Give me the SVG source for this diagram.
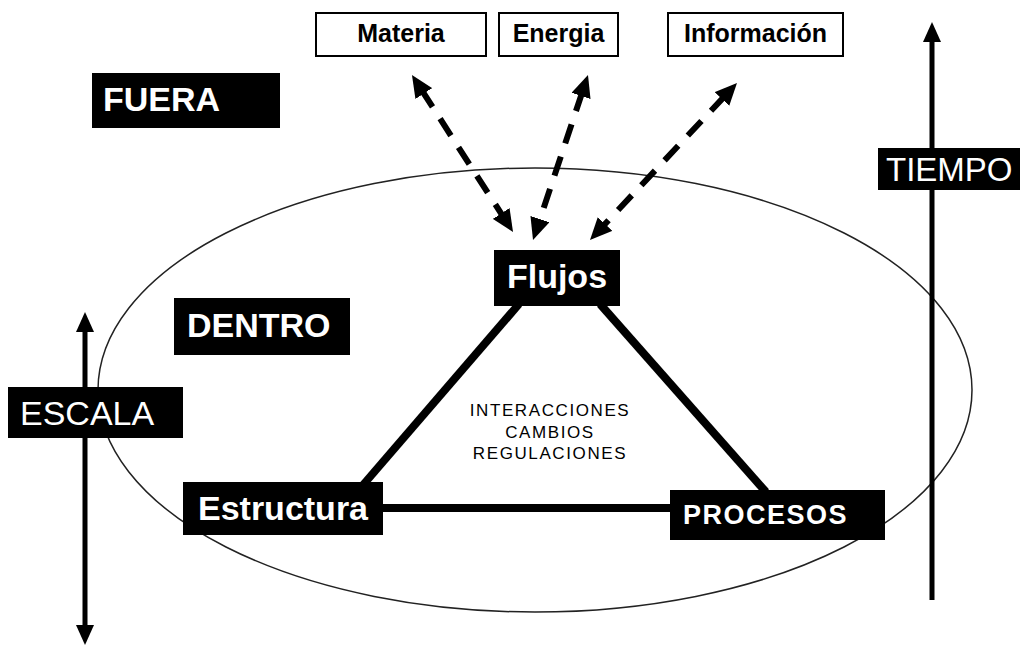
<svg xmlns="http://www.w3.org/2000/svg" width="1024" height="650" viewBox="0 0 1024 650">
<defs>
<style>
.bg{fill:#fff}
.dark{fill:#000}
.lite{fill:#fff;stroke:#000;stroke-width:2}
.wb{font-family:"Liberation Sans",Arial,sans-serif;font-weight:bold;fill:#fff}
.wr{font-family:"Liberation Sans",Arial,sans-serif;font-weight:normal;fill:#fff}
.kb{font-family:"Liberation Sans",Arial,sans-serif;font-weight:bold;fill:#000;font-size:25px}
.mid{font-family:"Liberation Sans",Arial,sans-serif;font-size:17px;letter-spacing:1.6px;fill:#000;text-anchor:middle}
.dash{stroke:#000;stroke-width:6;fill:none;stroke-dasharray:20 14;marker-start:url(#ah);marker-end:url(#ah)}
.edge{stroke:#000;stroke-width:8;fill:none}
.axis{stroke:#000;stroke-width:5;fill:none}
</style>
<marker id="ah" viewBox="0 0 22 20" refX="4" refY="10" markerWidth="22" markerHeight="20" markerUnits="userSpaceOnUse" orient="auto-start-reverse">
<path d="M0,0 L22,10 L0,20 z" fill="#000"/>
</marker>
<marker id="ah2" viewBox="0 0 20 18" refX="4" refY="9" markerWidth="20" markerHeight="18" markerUnits="userSpaceOnUse" orient="auto-start-reverse">
<path d="M0,0 L20,9 L0,18 z" fill="#000"/>
</marker>
</defs>
<rect class="bg" x="0" y="0" width="1024" height="650"/>
<ellipse cx="535" cy="390" rx="437" ry="222" fill="none" stroke="#222" stroke-width="1.5"/>
<g id="connectors">
<line class="dash" x1="421.7" y1="90.1" x2="503.3" y2="216.9"/>
<line class="dash" x1="582.3" y1="92.1" x2="538.7" y2="222.9"/>
<line class="dash" x1="724.7" y1="96.1" x2="602.3" y2="226.9"/>
<line class="edge" x1="519" y1="304" x2="363" y2="485"/>
<line class="edge" x1="600" y1="304" x2="766" y2="492"/>
<line class="edge" x1="380" y1="508" x2="672" y2="508"/>
<line class="axis" x1="85" y1="328" x2="85" y2="629" marker-start="url(#ah2)" marker-end="url(#ah2)"/>
<line class="axis" x1="932" y1="38" x2="932" y2="600" stroke-width="6" marker-start="url(#ah2)"/>
</g>
<g id="materia"><rect class="lite" x="316" y="13" width="170" height="43"/><text class="kb" x="401" y="42" text-anchor="middle">Materia</text></g>
<g id="energia"><rect class="lite" x="499" y="13" width="119" height="43"/><text class="kb" x="558.5" y="42" text-anchor="middle">Energia</text></g>
<g id="informacion"><rect class="lite" x="668" y="13" width="175" height="43"/><text class="kb" x="755.5" y="42" text-anchor="middle">Información</text></g>
<g id="fuera"><rect class="dark" x="92" y="73" width="188" height="55"/><text class="wb" x="103" y="111" font-size="34">FUERA</text></g>
<g id="dentro"><rect class="dark" x="174" y="298" width="176" height="57"/><text class="wb" x="187" y="337" font-size="34">DENTRO</text></g>
<g id="flujos"><rect class="dark" x="494" y="250" width="126" height="56"/><text class="wb" x="557" y="288" font-size="34" text-anchor="middle">Flujos</text></g>
<g id="estructura"><rect class="dark" x="183" y="482" width="200" height="53"/><text class="wb" x="283" y="520" font-size="34" text-anchor="middle">Estructura</text></g>
<g id="procesos"><rect class="dark" x="670" y="490" width="215" height="50"/><text class="wb" x="683" y="524" font-size="27" letter-spacing="1.5">PROCESOS</text></g>
<g id="escala"><rect class="dark" x="8" y="387" width="175" height="51"/><text class="wr" x="20" y="425" font-size="34">ESCALA</text></g>
<g id="tiempo"><rect class="dark" x="878" y="148" width="142" height="42"/><text class="wr" x="886" y="181" font-size="33">TIEMPO</text></g>
<g id="centro">
<text class="mid" x="550" y="416">INTERACCIONES</text>
<text class="mid" x="550" y="438">CAMBIOS</text>
<text class="mid" x="550" y="459">REGULACIONES</text>
</g>
</svg>
